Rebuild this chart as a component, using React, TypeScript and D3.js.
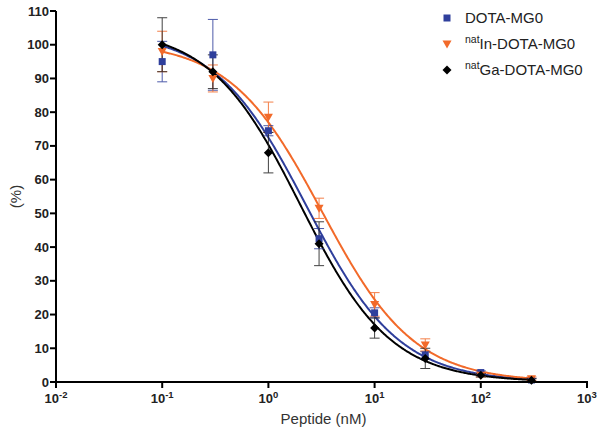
import React from "react";
import * as d3 from "d3";

const concentrations = [0.1, 0.3, 1, 3, 10, 30, 100, 300];

const seriesNames = ["DOTA-MG0", "natIn-DOTA-MG0", "natGa-DOTA-MG0"];
const seriesColors = ["#2f3f9c", "#f26a2a", "#000000"];
const seriesMarkers = ["square", "triangle", "diamond"];

const dotaMean = [95, 97, 74.5, 42.5, 20.5, 8, 2.8, 0.6];
const dotaErr = [6, 10.5, 1.5, 3, 1.5, 1, 0.5, 0.5];

const inMean = [98, 90, 78.5, 51.5, 23, 11, 2, 1];
const inErr = [6, 4, 4.5, 3, 3.5, 1.8, 0.5, 0.5];

const gaMean = [100, 92, 68, 41, 16, 7, 2, 0.5];
const gaErr = [8, 5, 6, 6.5, 3, 3, 0.5, 0.5];

// 4-parameter logistic fit parameters: [top, bottom, IC50 (nM), hill]
const dotaFit = [104, 0, 2.3, 1];
const inFit = [101, 0, 3.2, 1];
const gaFit = [105, 0, 2.0, 1.02];

const yTicks = [0, 10, 20, 30, 40, 50, 60, 70, 80, 90, 100, 110];
const xTickExponents = [-2, -1, 0, 1, 2, 3];

const means = [dotaMean, inMean, gaMean];
const errs = [dotaErr, inErr, gaErr];
const fits = [dotaFit, inFit, gaFit];

const left = 56;
const right = 587;
const top = 11;
const bottom = 382;

export default function App() {
  const x = d3.scaleLog().domain([0.01, 1000]).range([left, right]);
  const y = d3.scaleLinear().domain([0, 110]).range([bottom, top]);

  const curveXs = d3.range(0, 401).map((i) => Math.pow(10, -1 + (i / 400) * Math.log10(3000)));
  const line = d3
    .line<[number, number]>()
    .x((d) => x(d[0]))
    .y((d) => y(d[1]))
    .curve(d3.curveLinear);

  const marker = (kind: string, cx: number, cy: number, color: string, key: string) => {
    if (kind === "square") {
      return <rect key={key} x={cx - 3.5} y={cy - 3.5} width={7} height={7} fill={color} />;
    }
    if (kind === "triangle") {
      return (
        <path key={key} d={`M${cx - 4.5},${cy - 3.5}L${cx + 4.5},${cy - 3.5}L${cx},${cy + 4.5}Z`} fill={color} />
      );
    }
    return (
      <path key={key} d={`M${cx},${cy - 4.5}L${cx + 4.5},${cy}L${cx},${cy + 4.5}L${cx - 4.5},${cy}Z`} fill={color} />
    );
  };

  const font = "Liberation Sans, Arial, Helvetica, sans-serif";

  return (
    <svg width={602} height={437} style={{ position: "absolute", left: 0, top: 0 }}>
      <rect width={602} height={437} fill="#fff" />
      {/* curves */}
      {fits.map((f, si) => {
        const [tp, bt, ic, h] = f;
        const pts: [number, number][] = curveXs.map((c) => [c, bt + (tp - bt) / (1 + Math.pow(c / ic, h))]);
        return <path key={"c" + si} d={line(pts) || ""} fill="none" stroke={seriesColors[si]} strokeWidth={2} />;
      })}
      {/* error bars */}
      {means.map((m, si) =>
        m.map((v, i) => {
          const cx = x(concentrations[i]);
          const e = errs[si][i];
          const col = seriesColors[si] === "#000000" ? "#222" : seriesColors[si];
          return (
            <g key={`e${si}-${i}`} stroke={col} strokeWidth={1} opacity={0.85}>
              <line x1={cx} x2={cx} y1={y(v + e)} y2={y(v - e)} />
              <line x1={cx - 5} x2={cx + 5} y1={y(v + e)} y2={y(v + e)} />
              <line x1={cx - 5} x2={cx + 5} y1={y(v - e)} y2={y(v - e)} />
            </g>
          );
        })
      )}
      {/* markers */}
      {means.map((m, si) => m.map((v, i) => marker(seriesMarkers[si], x(concentrations[i]), y(v), seriesColors[si], `m${si}-${i}`)))}

      {/* axes */}
      <line x1={left} x2={left} y1={top} y2={bottom + 1} stroke="#000" strokeWidth={2} />
      <line x1={left - 1} x2={right + 1} y1={bottom} y2={bottom} stroke="#000" strokeWidth={2} />
      {yTicks.map((t) => (
        <g key={"yt" + t}>
          <line x1={left - 6} x2={left} y1={y(t)} y2={y(t)} stroke="#000" strokeWidth={2} />
          <text x={left - 7} y={y(t) + 4.5} textAnchor="end" fontFamily={font} fontWeight="bold" fontSize={13} fill="#222">
            {t}
          </text>
        </g>
      ))}
      {xTickExponents.map((p) => {
        const xv = x(Math.pow(10, p));
        return (
          <g key={"xt" + p}>
            <line x1={xv} x2={xv} y1={bottom} y2={bottom + 6} stroke="#000" strokeWidth={2} />
            <text x={xv} y={bottom + 21} textAnchor="middle" fontFamily={font} fontWeight="bold" fontSize={13} fill="#222">
              10
              <tspan dy={-5} fontSize={9.5}>
                {p}
              </tspan>
            </text>
          </g>
        );
      })}
      <text x={(left + right) / 2 + 2} y={424} textAnchor="middle" fontFamily={font} fontSize={15} fill="#333">
        Peptide (nM)
      </text>
      <text transform={`translate(21,${(top + bottom) / 2}) rotate(-90)`} textAnchor="middle" fontFamily={font} fontSize={15} fill="#333">
        (%)
      </text>

      {/* legend */}
      {seriesNames.map((n, i) => {
        const ly = 18 + i * 26;
        const isNat = n.startsWith("nat");
        return (
          <g key={"lg" + i}>
            {marker(seriesMarkers[i], 447, ly, seriesColors[i], "lm" + i)}
            <text x={465} y={ly + 5} fontFamily={font} fontSize={15} fill="#222">
              {isNat ? (
                <>
                  <tspan fontSize={10.5} dy={-6}>
                    nat
                  </tspan>
                  <tspan dy={6}>{n.slice(3)}</tspan>
                </>
              ) : (
                n
              )}
            </text>
          </g>
        );
      })}
    </svg>
  );
}
